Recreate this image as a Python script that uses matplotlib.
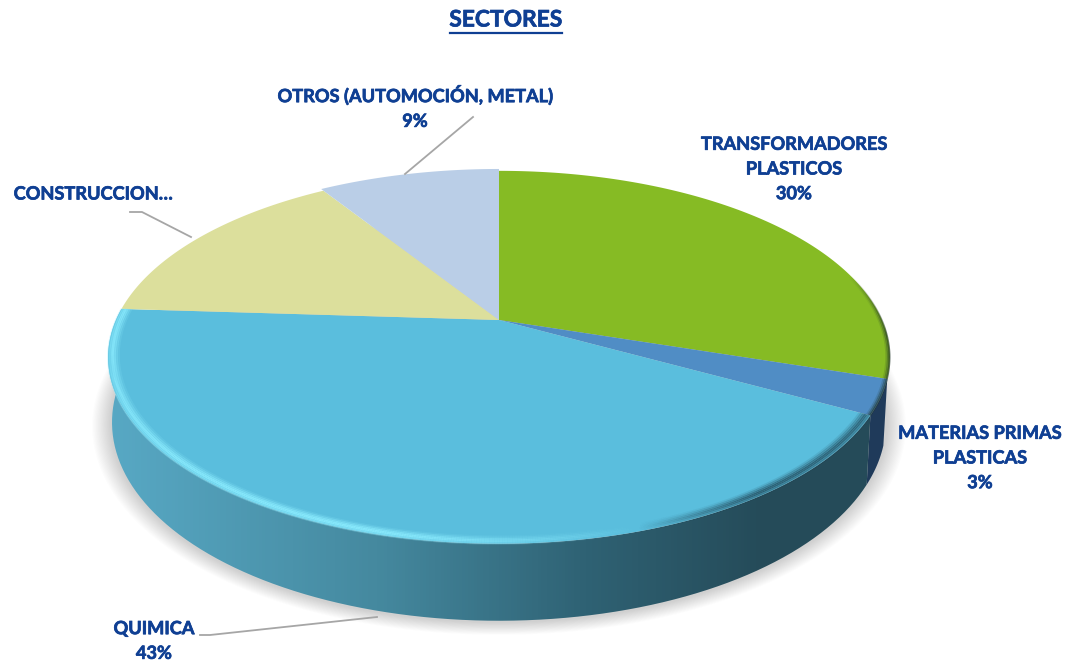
import numpy as np
import matplotlib
matplotlib.use('Agg')
import matplotlib.pyplot as plt
import matplotlib.patheffects as pe
from matplotlib.colors import LinearSegmentedColormap
from matplotlib.collections import LineCollection
from matplotlib.patches import Polygon

# datos del grafico
sectores = ['TRANSFORMADORES\nPLASTICOS', 'MATERIAS PRIMAS\nPLASTICAS', 'QUIMICA', 'CONSTRUCCION', 'OTROS (AUTOMOCIÓN, METAL)']
valores = [30, 3, 43, 15, 9]
colores = ['#86BB24', '#508DC5', '#5ABEDD', '#DCDF9C', '#BACEE7']
etiquetas = ['TRANSFORMADORES\nPLASTICOS\n30%', 'MATERIAS PRIMAS\nPLASTICAS\n3%', 'QUIMICA\n43%', 'CONSTRUCCION…', 'OTROS (AUTOMOCIÓN, METAL)\n9%']
azul = '#0F3F93'

# geometria de la tarta en perspectiva (pixeles)
cx, cy = 499, 320
a, b, k = 383, 179, 0.2


def arriba(ang, r=1.0):
    u = r * np.sin(ang)
    v = -r * np.cos(ang)
    d = 1 - k * v
    return cx + a * u / d, cy + b * v / d


def abajo(ang):
    v = -np.cos(ang)
    x, y = arriba(ang)
    return cx + (x - cx) * 0.99, y + 62 + 15 * v


def segmentos(x, y):
    return np.stack([np.c_[x[:-1], y[:-1]], np.c_[x[1:], y[1:]]], axis=1)


fig = plt.figure(figsize=(10.66, 6.62), dpi=100)
ax = fig.add_axes([0, 0, 1, 1])
ax.axis('off')

angulos = np.concatenate([[0], np.cumsum(valores)]) / sum(valores) * 2 * np.pi

# sombra
t = np.linspace(0, 2 * np.pi, 300)
for i in range(16):
    x, y = abajo(t)
    esc = 1 + (16 - i) * 0.0032
    ax.fill(cx + (x - cx) * esc, cy + 45 + (y - cy - 45) * esc + 1, color='#555555', alpha=0.014, lw=0, zorder=1)

# pared lateral: azul oscuro y quimica con degradado
for i in [1, 2]:
    t = np.linspace(angulos[i], angulos[i + 1], 100)
    xa, ya = arriba(t)
    xb, yb = abajo(t)
    px = np.concatenate([xa, xb[::-1]])
    py = np.concatenate([ya, yb[::-1]])
    if i == 1:
        ax.fill(px, py, color='#1F3A5A', lw=0, zorder=2)
    else:
        cm = LinearSegmentedColormap.from_list('pared', [(0, '#58A9C5'), (0.35, '#45899F'), (0.62, '#2F6274'), (0.85, '#254B59'), (1, '#254B59')])
        im = ax.imshow(np.linspace(0, 1, 256).reshape(1, -1), cmap=cm, extent=(105, 880, 660, 300), aspect='auto', zorder=2)
        im.set_clip_path(Polygon(np.c_[px, py], transform=ax.transData))

# cara superior
for i in range(5):
    r = 1.015 if i == 4 else 1.0
    t = np.linspace(angulos[i], angulos[i + 1], 120)
    x, y = arriba(t, r)
    ax.fill(np.r_[cx, x], np.r_[cy, y], color=colores[i], lw=0, zorder=3)

# bisel del borde del sector grande: claro a la izquierda, oscuro a la derecha
for r, al in [(0.999, 0.45), (0.994, 0.7), (0.989, 1.0), (0.984, 0.75), (0.979, 0.45), (0.974, 0.2)]:
    t = np.linspace(angulos[2], angulos[3], 500)
    x, y = arriba(t, r)
    seg = segmentos(x, y)
    col = np.zeros((len(seg), 4))
    xm = x[:-1]
    claro = np.clip((640 - xm) / 260, 0, 1) * 0.8 * al
    oscuro = np.clip((xm - 640) / 120, 0, 1) * 0.55 * al
    col[:, :3] = np.where((xm < 640)[:, None], [0.55, 0.93, 1.0], [0.1, 0.22, 0.28])
    col[:, 3] = np.where(xm < 640, claro, oscuro)
    ax.add_collection(LineCollection(seg, colors=col, linewidths=1.8, zorder=4))

# borde oscuro de los sectores de la derecha
for r, al in [(0.999, 0.7), (0.995, 0.4), (0.991, 0.15)]:
    t = np.linspace(np.radians(75), angulos[2], 150)
    x, y = arriba(t, r)
    seg = segmentos(x, y)
    col = np.zeros((len(seg), 4))
    col[:, :3] = [0.12, 0.2, 0.15]
    col[:, 3] = np.clip((t[:-1] - np.radians(75)) / np.radians(20), 0, 1) * al
    ax.add_collection(LineCollection(seg, colors=col, linewidths=1.4, zorder=4))

# lineas guia
guias = [([473, 405], [117, 174]), ([130, 142, 191], [212, 212, 237]), ([200, 210, 377], [635, 635, 617])]
for gx, gy in guias:
    ax.plot(gx, gy, color='#A6A6A6', lw=1.3, zorder=5)

# textos
grueso = [pe.withStroke(linewidth=0.5, foreground=azul)]
posiciones = [(794, 169), (980, 458), (154, 641), (93, 194), (415, 107)]
for lab, (px, py) in zip(etiquetas, posiciones):
    ax.text(px, py, lab, color=azul, fontsize=13.1, fontweight='bold', family=['Lato', 'DejaVu Sans'],
            ha='center', va='center', linespacing=1.55, zorder=6, path_effects=grueso)

ax.text(506, 20, 'SECTORES', color=azul, fontsize=16.4, fontweight='bold', family=['Lato', 'DejaVu Sans'],
        ha='center', va='center', path_effects=grueso)
ax.plot([450, 562], [32.5, 32.5], color=azul, lw=1.6)

ax.set_xlim(0, 1066)
ax.set_ylim(662, 0)
fig.savefig('out.png', dpi=100)
